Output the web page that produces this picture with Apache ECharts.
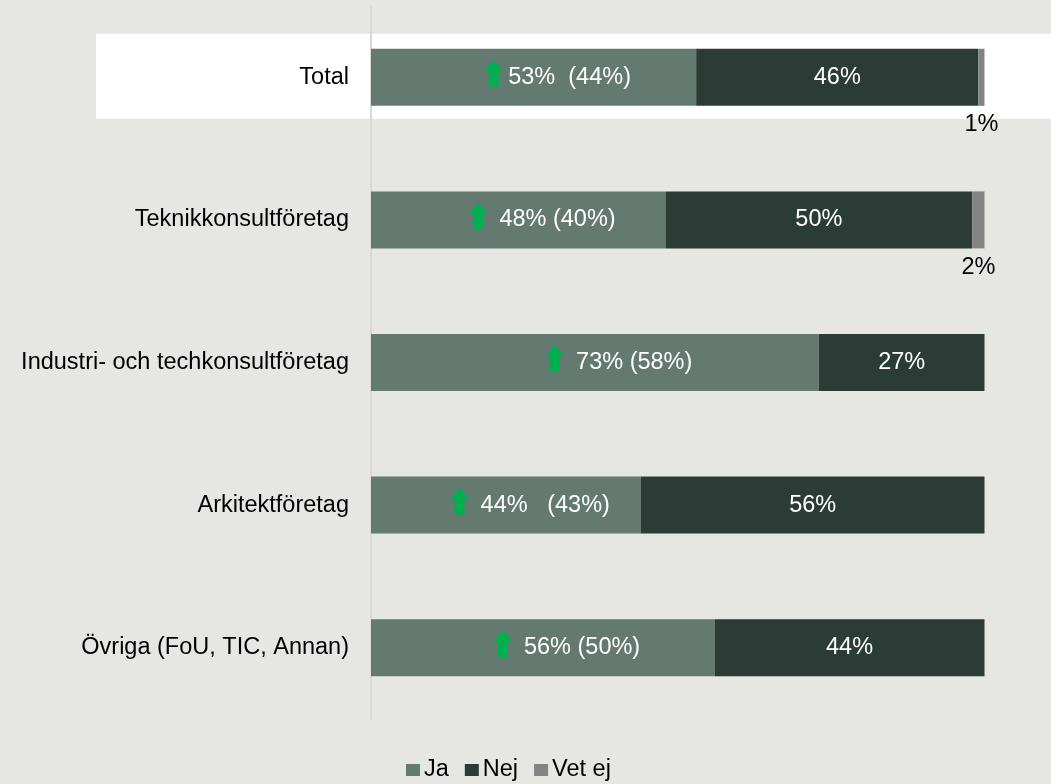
<!DOCTYPE html>
<html><head><meta charset="utf-8">
<script src="https://cdn.jsdelivr.net/npm/echarts@6/dist/echarts.min.js"></script>
<style>html,body{margin:0;padding:0;background:#e6e6e2}#c{width:1051px;height:784px}</style>
</head><body><div id="c"></div>
<script>
const categories = ['Total', 'Teknikkonsultföretag', 'Industri- och techkonsultföretag', 'Arkitektföretag', 'Övriga (FoU, TIC, Annan)'];
const ja = [53, 48, 73, 44, 56];
const nej = [46, 50, 27, 56, 44];
const vetEj = [1, 2, 0, 0, 0];
const jaPrevious = [44, 40, 58, 43, 50];
const seriesNames = ['Ja', 'Nej', 'Vet ej'];
const leadSpace = ['', ' ', ' ', ' ', ' '];
const midSpace = ['  ', ' ', ' ', '   ', ' '];

const FONT = '"Liberation Sans", Arial, sans-serif';
const FS = 23.5;
const colors = ['#647a70', '#2b3b35', '#838383'];

const jaText = ja.map((v, i) => leadSpace[i] + v + '%' + midSpace[i] + '(' + jaPrevious[i] + '%)');

const arrowSvg = '<svg xmlns="http://www.w3.org/2000/svg" width="19" height="35" viewBox="0 0 19 35"><polygon points="9.5,0 19,11 14.5,11 14.5,27 4.5,27 4.5,11 0,11" fill="#00b050"/></svg>';
const img = new Image();

const chart = echarts.init(document.getElementById('c'), null, {renderer: 'canvas'});

function render() {
  chart.setOption({
    animation: false,
    backgroundColor: '#e6e6e2',
    color: colors,
    textStyle: {fontFamily: FONT},
    grid: {left: 371, right: 66.5, top: 6, bottom: 65},
    legend: {
      left: 406, top: 758, padding: 0,
      itemWidth: 14, itemHeight: 12, itemGap: 16,
      icon: 'rect',
      textStyle: {fontSize: FS, color: '#000', fontFamily: FONT, padding: [0, 0, 0, -1]},
      data: seriesNames
    },
    xAxis: {type: 'value', min: 0, max: 100, show: false},
    yAxis: {
      type: 'category', data: categories, inverse: true,
      axisLine: {show: true, lineStyle: {color: '#d9d9d9', width: 2}},
      axisTick: {show: false},
      splitLine: {show: false},
      axisLabel: {margin: 22, fontSize: FS, color: '#000', fontFamily: FONT}
    },
    series: [
      {
        name: seriesNames[0], type: 'bar', stack: 's', barWidth: 57, data: ja, z: 3,
        label: {
          show: true, position: 'inside', offset: [24, 0],
          formatter: p => '{a|}{t|' + jaText[p.dataIndex] + '}',
          rich: {
            a: {width: 19, height: 35, backgroundColor: {image: img}},
            t: {color: '#fff', fontSize: FS, fontFamily: FONT, padding: [0, 0, 0, 5]}
          }
        }
      },
      {
        name: seriesNames[1], type: 'bar', stack: 's', barWidth: 57, data: nej, z: 3,
        label: {show: true, position: 'inside', color: '#fff', fontSize: FS, fontFamily: FONT, formatter: p => p.value + '%'}
      },
      {
        name: seriesNames[2], type: 'bar', stack: 's', barWidth: 57, data: vetEj, z: 3,
        label: {show: true, position: 'bottom', distance: 7, color: '#000', fontSize: FS, fontFamily: FONT,
          formatter: p => p.value ? p.value + '%' : ''}
      }
    ]
  });
  const yc = chart.convertToPixel({yAxisIndex: 0}, categories[0]);
  chart.setOption({
    graphic: [{
      type: 'rect', z: -10, silent: true,
      shape: {x: 96, y: yc - 43.5, width: 1051 - 96, height: 85},
      style: {fill: '#ffffff'}
    }]
  });
}
img.onload = render;
img.onerror = render;
img.src = 'data:image/svg+xml;charset=utf-8,' + encodeURIComponent(arrowSvg);
</script>
</body></html>
